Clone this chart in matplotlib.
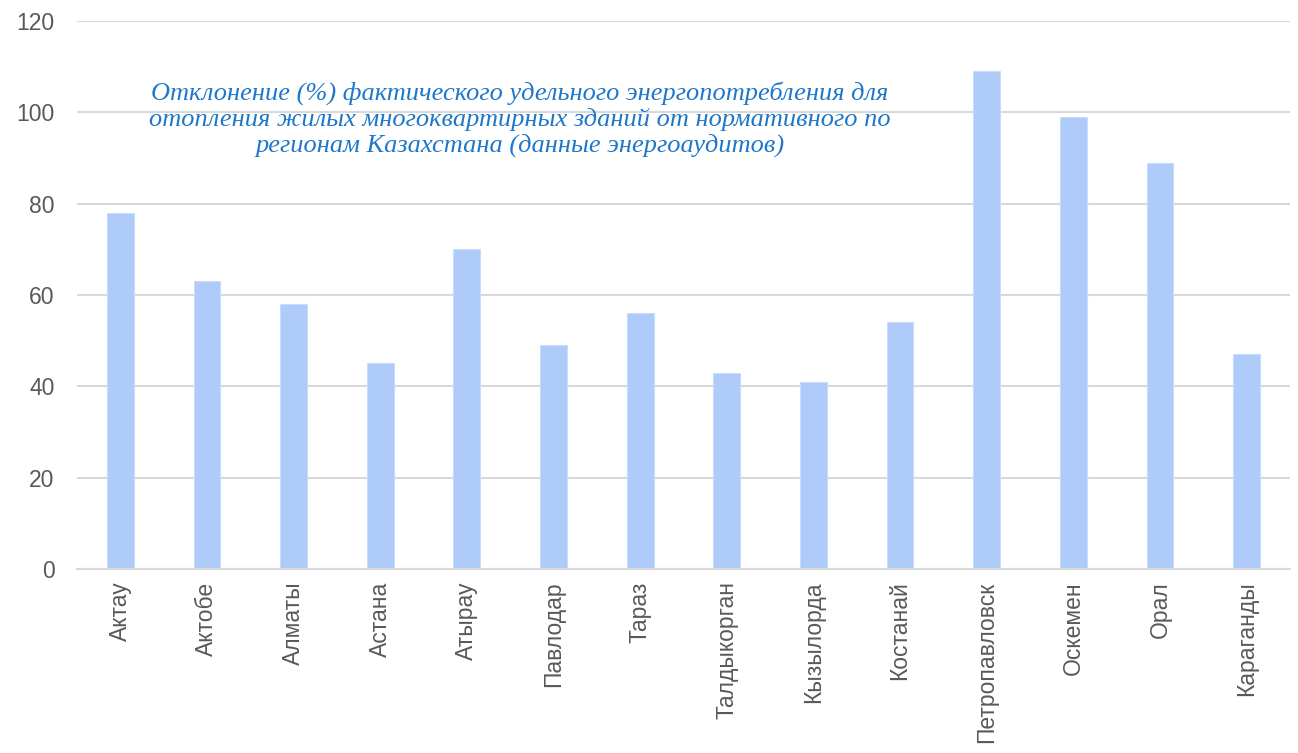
import matplotlib
matplotlib.use("Agg")
import matplotlib.pyplot as plt
import numpy as np

regions = ["Актау", "Актобе", "Алматы", "Астана", "Атырау", "Павлодар", "Тараз",
           "Талдыкорган", "Кызылорда", "Костанай", "Петропавловск", "Оскемен",
           "Орал", "Караганды"]
deviation = [78, 63, 58, 45, 70, 49, 56, 43, 41, 54, 109, 99, 89, 47]
y_ticks = [0, 20, 40, 60, 80, 100, 120]
title = ("Отклонение (%) фактического удельного энергопотребления для\n"
         "отопления жилых многоквартирных зданий от нормативного по\n"
         "регионам Казахстана (данные энергоаудитов)")

plt.rcParams['font.family'] = ['Liberation Sans', 'DejaVu Sans']

fig = plt.figure(figsize=(12.98, 7.53), dpi=100)
ax = fig.add_axes([0.0593, 0.2444, 0.9345, 0.7277])

x = np.arange(len(regions))
ax.bar(x, deviation, width=0.31, color='#aecbfa', edgecolor='#c9dcfb', linewidth=0.8, zorder=2)

ax.set_xlim(-0.5, len(regions) - 0.5)
ax.set_ylim(0, 120)
ax.set_yticks(y_ticks)
ax.set_xticks(x)
ax.set_xticklabels(regions, rotation=90, fontsize=16.5, color='#595959')
ax.tick_params(axis='y', labelsize=16.5, labelcolor='#595959', length=0, pad=16)
ax.tick_params(axis='x', length=0, pad=9)

ax.yaxis.grid(True, color='#d9d9d9', linewidth=1.5, zorder=0)
ax.set_axisbelow(True)
for s in ['top', 'right', 'left']:
    ax.spines[s].set_visible(False)
ax.spines['bottom'].set_color('#d9d9d9')
ax.spines['bottom'].set_linewidth(1.5)

fig.text(520 / 1298, 1 - 119 / 753, title, ha='center', va='center',
         fontsize=19, style='italic', family='Liberation Serif', color='#1f77c9',
         linespacing=1.17)

fig.savefig("out.png", dpi=100)
